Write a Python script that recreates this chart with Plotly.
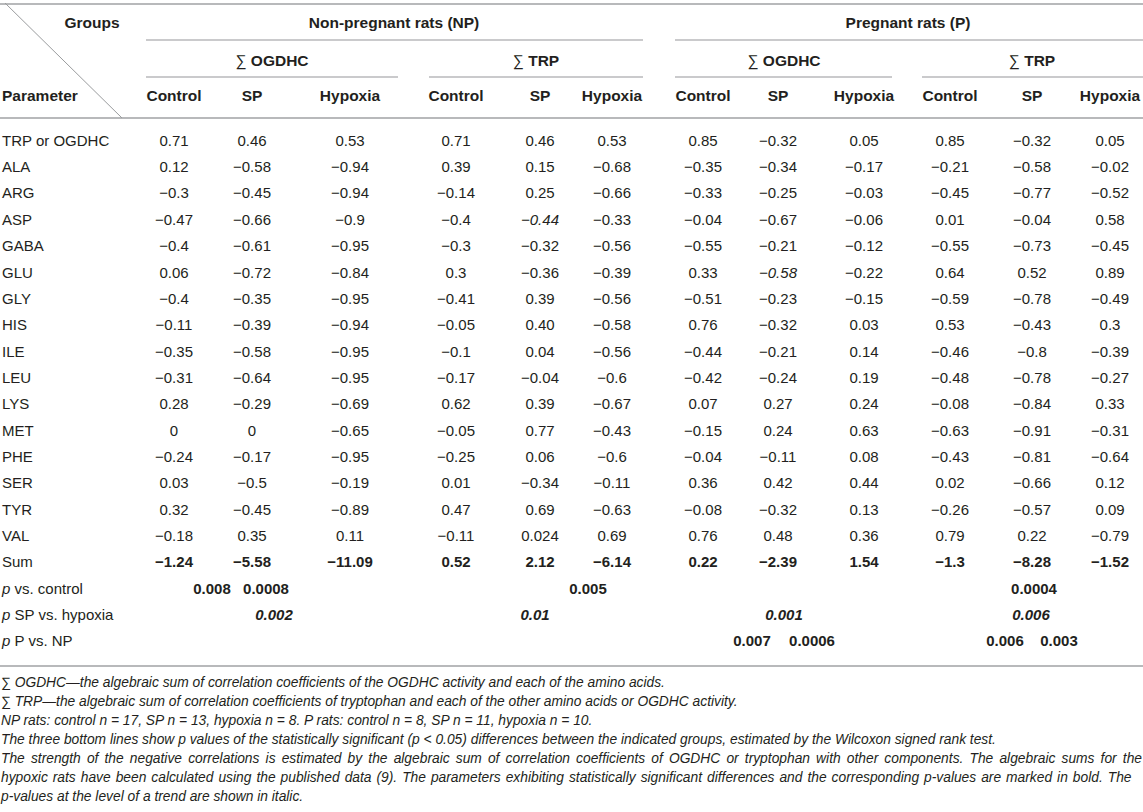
import plotly.graph_objects as go

# ---- data -------------------------------------------------------------
params = ["TRP or OGDHC", "ALA", "ARG", "ASP", "GABA", "GLU", "GLY", "HIS",
          "ILE", "LEU", "LYS", "MET", "PHE", "SER", "TYR", "VAL"]

np_ogdhc_control = ["0.71", "0.12", "−0.3", "−0.47", "−0.4", "0.06", "−0.4", "−0.11",
                    "−0.35", "−0.31", "0.28", "0", "−0.24", "0.03", "0.32", "−0.18"]
np_ogdhc_sp = ["0.46", "−0.58", "−0.45", "−0.66", "−0.61", "−0.72", "−0.35", "−0.39",
               "−0.58", "−0.64", "−0.29", "0", "−0.17", "−0.5", "−0.45", "0.35"]
np_ogdhc_hypoxia = ["0.53", "−0.94", "−0.94", "−0.9", "−0.95", "−0.84", "−0.95", "−0.94",
                    "−0.95", "−0.95", "−0.69", "−0.65", "−0.95", "−0.19", "−0.89", "0.11"]
np_trp_control = ["0.71", "0.39", "−0.14", "−0.4", "−0.3", "0.3", "−0.41", "−0.05",
                  "−0.1", "−0.17", "0.62", "−0.05", "−0.25", "0.01", "0.47", "−0.11"]
np_trp_sp = ["0.46", "0.15", "0.25", "−0.44", "−0.32", "−0.36", "0.39", "0.40",
             "0.04", "−0.04", "0.39", "0.77", "0.06", "−0.34", "0.69", "0.024"]
np_trp_hypoxia = ["0.53", "−0.68", "−0.66", "−0.33", "−0.56", "−0.39", "−0.56", "−0.58",
                  "−0.56", "−0.6", "−0.67", "−0.43", "−0.6", "−0.11", "−0.63", "0.69"]
p_ogdhc_control = ["0.85", "−0.35", "−0.33", "−0.04", "−0.55", "0.33", "−0.51", "0.76",
                   "−0.44", "−0.42", "0.07", "−0.15", "−0.04", "0.36", "−0.08", "0.76"]
p_ogdhc_sp = ["−0.32", "−0.34", "−0.25", "−0.67", "−0.21", "−0.58", "−0.23", "−0.32",
              "−0.21", "−0.24", "0.27", "0.24", "−0.11", "0.42", "−0.32", "0.48"]
p_ogdhc_hypoxia = ["0.05", "−0.17", "−0.03", "−0.06", "−0.12", "−0.22", "−0.15", "0.03",
                   "0.14", "0.19", "0.24", "0.63", "0.08", "0.44", "0.13", "0.36"]
p_trp_control = ["0.85", "−0.21", "−0.45", "0.01", "−0.55", "0.64", "−0.59", "0.53",
                 "−0.46", "−0.48", "−0.08", "−0.63", "−0.43", "0.02", "−0.26", "0.79"]
p_trp_sp = ["−0.32", "−0.58", "−0.77", "−0.04", "−0.73", "0.52", "−0.78", "−0.43",
            "−0.8", "−0.78", "−0.84", "−0.91", "−0.81", "−0.66", "−0.57", "0.22"]
p_trp_hypoxia = ["0.05", "−0.02", "−0.52", "0.58", "−0.45", "0.89", "−0.49", "0.3",
                 "−0.39", "−0.27", "0.33", "−0.31", "−0.64", "0.12", "0.09", "−0.79"]

sums = ["−1.24", "−5.58", "−11.09", "0.52", "2.12", "−6.14",
        "0.22", "−2.39", "1.54", "−1.3", "−8.28", "−1.52"]

# p-value rows, as printed
p_vs_control = ["0.008", "0.0008", "0.005", "0.0004"]
p_sp_vs_hypoxia = ["0.002", "0.01", "0.001", "0.006"]
p_p_vs_np = ["0.007", "0.0006", "0.006", "0.003"]

groups = ["Non-pregnant rats (NP)", "Pregnant rats (P)"]
subgroups = ["OGDHC", "TRP", "OGDHC", "TRP"]
col_labels = ["Control", "SP", "Hypoxia"] * 4

footnotes = [
    "∑ OGDHC—the algebraic sum of correlation coefficients of the OGDHC activity and each of the amino acids.",
    "∑ TRP—the algebraic sum of correlation coefficients of tryptophan and each of the other amino acids or OGDHC activity.",
    "NP rats: control n = 17, SP n = 13, hypoxia n = 8. P rats: control n = 8, SP n = 11, hypoxia n = 10.",
    "The three bottom lines show p values of the statistically significant (p &lt; 0.05) differences between the indicated groups, estimated by the Wilcoxon signed rank test.",
    "The strength of the negative correlations is estimated by the algebraic sum of correlation coefficients of OGDHC or tryptophan with other components. The algebraic sums for the",
    "hypoxic rats have been calculated using the published data (9). The parameters exhibiting statistically significant differences and the corresponding p-values are marked in bold. The",
    "p-values at the level of a trend are shown in italic.",
]

columns = [np_ogdhc_control, np_ogdhc_sp, np_ogdhc_hypoxia,
           np_trp_control, np_trp_sp, np_trp_hypoxia,
           p_ogdhc_control, p_ogdhc_sp, p_ogdhc_hypoxia,
           p_trp_control, p_trp_sp, p_trp_hypoxia]

# ---- layout (pixel positions) -----------------------------------------
W, H = 1143, 812
FONT = "Liberation Sans, Arial, Helvetica, sans-serif"
INK = "#231f20"
RULE = "#b8b9bb"

col_x = [174, 252, 350, 456, 540, 612, 703, 778, 864, 950, 1032, 1110]
italic_cells = {(3, 4), (5, 7)}  # (row, col) printed in italic
# the note paragraph is justified in the original: pad its spaces a little
justify_space = {4: " \u2006", 5: " \u200a"}

y_groups, y_sub, y_cols = 24, 62, 97
row0, pitch = 142, 26.35
row_y = [row0 + i * pitch for i in range(20)]
foot_y0, foot_pitch = 684, 19

p_control_x = [212, 266, 588, 1034]
p_sp_hyp_x = [274, 535, 784, 1031]
p_p_np_x = [752, 812, 1005, 1059]

fig = go.Figure()


def add_text(xs, ys, texts, size=15, pos="middle center", color=INK):
    fig.add_trace(go.Scatter(
        x=xs, y=ys, text=texts, mode="text", textposition=pos,
        textfont=dict(family=FONT, size=size, color=color),
        hoverinfo="skip", showlegend=False,
    ))


# header
HB = 15.5
add_text([92], [y_groups], ["<b>Groups</b>"], size=HB)
add_text([394, 908], [y_groups] * 2, [f"<b>{g}</b>" for g in groups], size=HB)
add_text([272, 536, 784, 1032], [y_sub] * 4, [f"∑ <b>{s}</b>" for s in subgroups], size=HB)
add_text(col_x, [y_cols] * 12, [f"<b>{c}</b>" for c in col_labels], size=HB)
add_text([2], [y_cols], ["<b>Parameter</b>"], size=HB, pos="middle right")

# body
add_text([2] * 16, row_y[:16], params, pos="middle right")
for j, col in enumerate(columns):
    cells = [f"<i>{v}</i>" if (i, j) in italic_cells else v for i, v in enumerate(col)]
    add_text([col_x[j]] * len(col), row_y[:16], cells)

add_text([2], [row_y[16]], ["Sum"], pos="middle right")
add_text(col_x, [row_y[16]] * 12, [f"<b>{v}</b>" for v in sums])

add_text([2, 2, 2], row_y[17:20],
         ["<i>p</i> vs. control", "<i>p</i> SP vs. hypoxia", "<i>p</i> P vs. NP"],
         pos="middle right")
add_text(p_control_x, [row_y[17]] * 4, [f"<b>{v}</b>" for v in p_vs_control])
add_text(p_sp_hyp_x, [row_y[18]] * 4, [f"<b><i>{v}</i></b>" for v in p_sp_vs_hypoxia])
add_text(p_p_np_x, [row_y[19]] * 4, [f"<b>{v}</b>" for v in p_p_vs_np])

# footnotes
notes = [t.replace(" ", justify_space.get(i, " ")) for i, t in enumerate(footnotes)]
add_text([1] * len(notes), [foot_y0 + i * foot_pitch for i in range(len(notes))],
         [f"<i>{t}</i>" for t in notes], size=13.8, pos="middle right")


# rules
def hline(x0, x1, y, w=1.6, color=RULE):
    fig.add_shape(type="line", x0=x0, x1=x1, y0=y, y1=y,
                  line=dict(color=color, width=w), xref="x", yref="y")


hline(0, W, 4, w=2)
hline(146, 643, 40)
hline(675, W, 40)
hline(146, 398, 77)
hline(429, 643, 77)
hline(675, 892, 77)
hline(922, W, 77)
hline(0, W, 118, w=2)
hline(0, W, 666, w=2)
fig.add_shape(type="line", x0=5, y0=3, x1=122, y1=118,
              line=dict(color="#9a9c9e", width=1), xref="x", yref="y")

fig.update_layout(
    width=W, height=H,
    margin=dict(l=0, r=0, t=0, b=0),
    paper_bgcolor="white", plot_bgcolor="white",
    xaxis=dict(range=[0, W], visible=False, fixedrange=True),
    yaxis=dict(range=[H, 0], visible=False, fixedrange=True),
    hovermode=False,
)

fig.write_html(
    "out.html",
    config={"displayModeBar": False, "staticPlot": True},
    post_script="document.body.style.margin='0';document.body.style.overflow='hidden';",
)
